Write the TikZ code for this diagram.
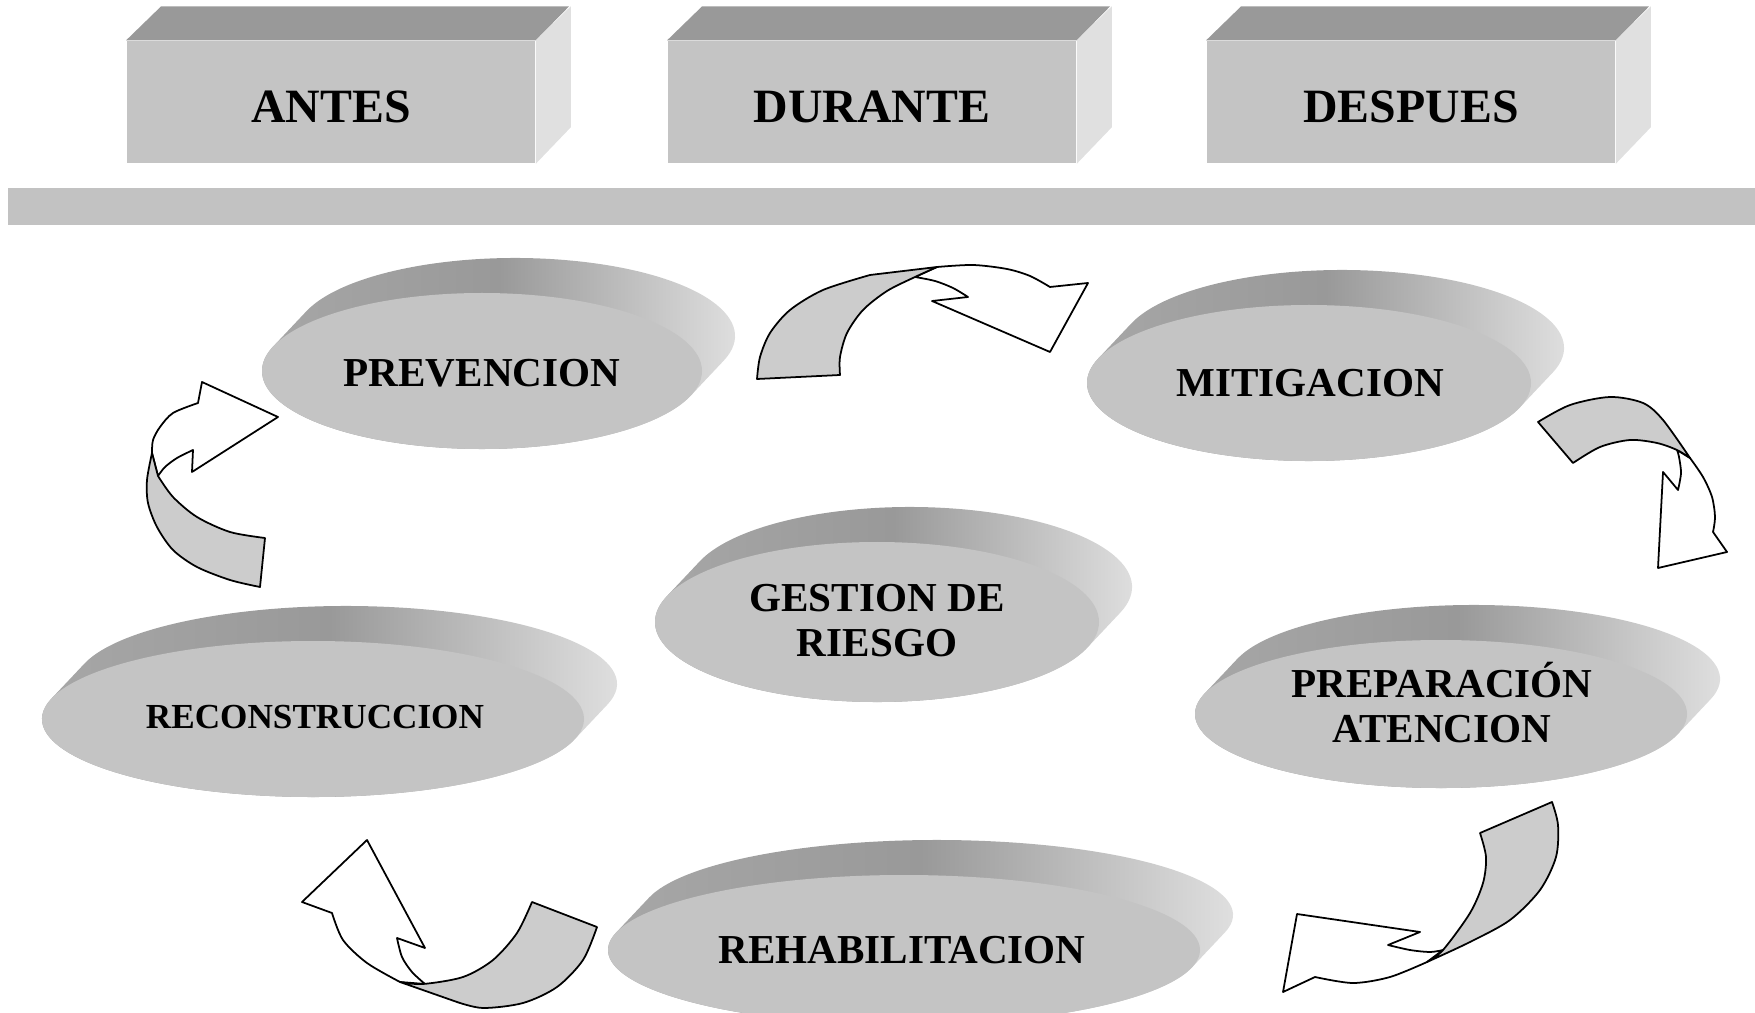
\documentclass[tikz,border=0pt]{standalone}
\usepackage{fontspec}
\setmainfont{Liberation Serif}
\usetikzlibrary{calc}
\tikzstyle{phase} = [rectangle, fill=black!23, minimum width=4.08cm, minimum height=1.22cm, inner sep=0pt, text height=11.8pt, text depth=0pt, font=\bfseries\fontsize{13.6}{15}\selectfont]
\tikzstyle{phasetop} = [fill=black!40]
\tikzstyle{phaseside} = [fill=black!12]
\tikzstyle{bar} = [fill=black!24]
\tikzstyle{rim} = [left color=black!34, right color=black!10, middle color=black!40]
\tikzstyle{face} = [fill=black!23]
\tikzstyle{stage} = [align=center, inner sep=0pt, font=\bfseries\fontsize{11.7}{12.8}\selectfont]
\tikzstyle{band} = [draw, fill=black!20, line width=0.5pt, line join=round]
\tikzstyle{head} = [draw, fill=white, line width=0.5pt, line join=round]
\newcommand*{\disc}[4]{%
    \pgfmathsetmacro{\rimA}{atan(33*#4/(35*#3))}
    \path [rim] ($(#1,#2) + (33,-35) + (\rimA+180:#3 and #4)$)
        arc [start angle=\rimA+180, end angle=\rimA+360, x radius=#3, y radius=#4]
        -- ($(#1,#2) + (\rimA:#3 and #4)$)
        arc [start angle=\rimA, end angle=\rimA+180, x radius=#3, y radius=#4] -- cycle;
    \path [face] (#1,#2) ellipse [x radius=#3, y radius=#4];
}

\begin{document}
\begin{tikzpicture}[x=0.01cm, y=-0.01cm]
    \useasboundingbox (0,0) rectangle (1755,1013);

    % Phases.
    \foreach \name/\x/\txt in {antes/331/ANTES, durante/872/DURANTE, despues/1411/DESPUES} {%
        \node (\name) [phase] at (\x,102) {\txt};
        \fill [phasetop] (\name.north west) -- ++(35,-34) -- ++(408,0) -- (\name.north east) -- cycle;
        \fill [phaseside] (\name.north east) -- ++(35,-34) -- ++(0,121) -- (\name.south east) -- cycle;
    }
    \fill [bar] (8,188) rectangle (1755,225);

    % Discs.
    \disc{482}{371}{220}{78}
    \disc{1309}{383}{222}{78}
    \disc{877}{622}{222}{80}
    \disc{313}{719}{271}{78}
    \disc{1441}{714}{246}{74}
    \disc{904}{950}{296}{75}

    \node (prevencion) [stage] at (482,373) {PREVENCION};
    \node (mitigacion) [stage] at (1310,383) {MITIGACION};
    \node (gestion) [stage] at (877,621) {GESTION DE\\RIESGO};
    \node (reconstruccion) [stage, font=\bfseries\fontsize{10}{11}\selectfont] at (315,717) {RECONSTRUCCION};
    \node (preparacion) [stage] at (1442,703) {PREPARACIÓN\\ATENCION};
    \node (rehabilitacion) [stage] at (902,950) {REHABILITACION};

    % Curved arrows.
    % Prevencion to mitigacion.
    \draw [head] plot [smooth] coordinates {(937,267) (973,265) (1007,269) (1030,276) (1050,287)}
        -- (1088,283) -- (1050,352) -- (932,301) -- (968,297)
        -- plot [smooth] coordinates {(968,297) (953,288) (935,281) (915,277)} -- cycle;
    \draw [band] plot [smooth] coordinates {(757,379) (760,357) (770,333) (790,310) (823,290) (870,275)}
        -- (937,267)
        -- plot [smooth] coordinates {(937,267) (915,277) (887,291) (863,310) (847,333) (840,357) (840,375)} -- cycle;

    % Mitigacion to preparacion.
    \draw [head] plot [smooth] coordinates {(1690,458) (1703,477) (1712,497) (1715,517) (1713,532)}
        -- (1727,552) -- (1658,568) -- (1663,472) -- (1678,490)
        -- plot [smooth] coordinates {(1678,490) (1681,473) (1679,457) (1677,450)} -- cycle;
    \draw [band] plot [smooth] coordinates {(1538,422) (1570,405) (1610,397) (1643,403) (1663,420) (1690,458)}
        -- plot [smooth] coordinates {(1690,458) (1677,450) (1657,443) (1630,440) (1600,447) (1573,463)} -- cycle;

    % Preparacion to rehabilitacion.
    \draw [head] plot [smooth] coordinates {(1427,962) (1390,977) (1353,983) (1315,977)}
        -- (1283,992) -- (1297,914) -- (1420,932) -- (1388,945)
        -- plot [smooth] coordinates {(1388,945) (1410,950) (1430,952) (1443,950)} -- cycle;
    \draw [band] (1480,833) -- (1552,802)
        -- plot [smooth] coordinates {(1552,802) (1558,825) (1556,857) (1540,890) (1510,920) (1470,942) (1427,962)}
        -- plot [smooth] coordinates {(1427,962) (1443,950) (1470,913) (1483,883) (1486,857) (1480,833)} -- cycle;

    % Rehabilitacion to reconstruccion.
    \draw [head] plot [smooth] coordinates {(400,982) (367,963) (343,940) (332,913)}
        -- (302,902) -- (367,840) -- (425,948) -- (397,938)
        -- plot [smooth] coordinates {(397,938) (402,957) (412,972) (425,984)} -- cycle;
    \draw [band] (532,902) -- (597,927)
        -- plot [smooth] coordinates {(597,927) (583,960) (557,987) (523,1003) (483,1008) (457,1002)}
        -- (400,982)
        -- plot [smooth] coordinates {(400,982) (423,984) (463,977) (493,960) (517,933) (532,902)} -- cycle;

    % Reconstruccion to prevencion.
    \draw [head] plot [smooth] coordinates {(152,453) (153,440) (160,427) (173,413) (198,403)}
        -- (202,382) -- (278,417) -- (192,472) -- (193,450)
        -- plot [smooth] coordinates {(193,450) (177,458) (165,467) (158,476)} -- cycle;
    \draw [band] (152,453)
        -- plot [smooth] coordinates {(158,476) (173,497) (197,517) (230,532) (265,538)}
        -- (260,587)
        -- plot [smooth] coordinates {(260,587) (230,580) (197,567) (173,550) (157,527) (148,503) (147,480) (152,453)} -- cycle;
\end{tikzpicture}
\end{document}
